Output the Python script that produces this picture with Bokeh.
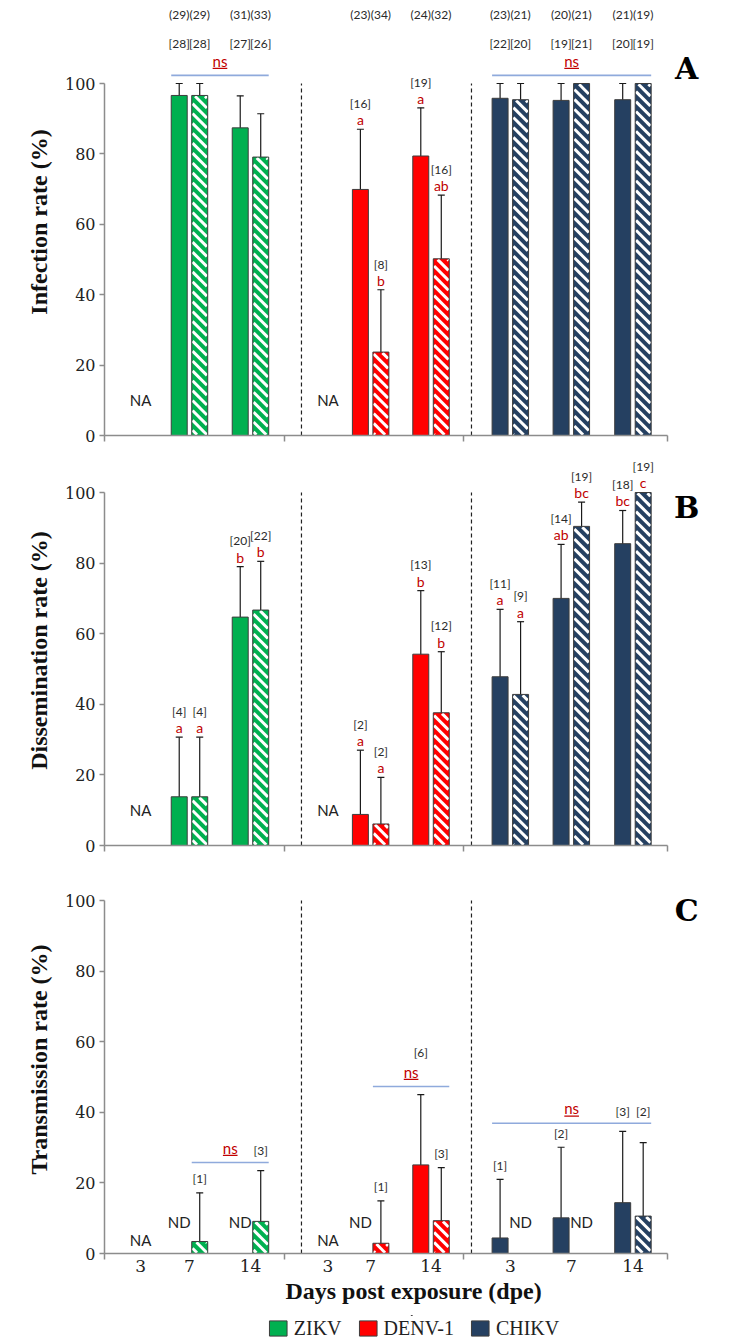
import math
from bokeh.plotting import figure
from bokeh.layouts import column
from bokeh.models import (ColumnDataSource, Whisker, TeeHead, FixedTicker, Range1d,
                          Legend, LegendItem)
from bokeh.core.properties import value
from bokeh.embed import file_html
from bokeh.resources import INLINE

# ---------------- data ----------------
viruses = ["ZIKV", "DENV-1", "CHIKV"]
virus_colors = ["#00B050", "#FF0000", "#254061"]
day_labels = ["3", "7", "14"]
# every list below: ZIKV 3,7,14 | DENV-1 3,7,14 | CHIKV 3,7,14
# "solid" = first mosquito population, "hatch" = second population

# A  infection rate (%)
inf_solid = [None, 96.6, 87.4, None, 69.9, 79.4, 95.8, 95.2, 95.4]
inf_solid_lo = [None, 82.6, 70.4, None, 47.3, 58.0, 78.3, 75.3, 76.4]
inf_solid_hi = [None, 100, 96.5, None, 87.0, 93.1, 100, 100, 100]
inf_hatch = [None, 96.6, 79.1, None, 23.7, 50.2, 95.4, 100, 100]
inf_hatch_lo = [None, 82.6, 63.9, None, 10.9, 32.0, 76.2, 84.0, 82.6]
inf_hatch_hi = [None, 100, 91.4, None, 41.4, 68.3, 100, 100, 100]
inf_tested_solid = [None, 29, 31, None, 23, 24, 23, 20, 21]
inf_tested_hatch = [None, 29, 33, None, 34, 32, 21, 21, 19]
inf_n_solid = [None, 28, 27, None, 16, 19, 22, 19, 20]
inf_n_hatch = [None, 28, 26, None, 8, 16, 20, 21, 19]
inf_let_solid = [None, None, None, None, "a", "a", None, None, None]
inf_let_hatch = [None, None, None, None, "b", "ab", None, None, None]
inf_status_solid = ["NA", "", "", "NA", "", "", "", "", ""]
inf_status_hatch = ["NA", "", "", "NA", "", "", "", "", ""]

# B  dissemination rate (%)
dis_solid = [None, 13.8, 64.7, None, 8.8, 54.2, 47.8, 70.0, 85.5]
dis_solid_lo = [None, 5.5, 47.0, None, 2.4, 35.4, 29.1, 48.0, 65.2]
dis_solid_hi = [None, 30.7, 79.0, None, 27.0, 72.2, 66.9, 85.3, 94.9]
dis_hatch = [None, 13.8, 66.7, None, 6.1, 37.6, 42.8, 90.4, 100]
dis_hatch_lo = [None, 5.5, 49.7, None, 1.8, 23.1, 24.5, 70.9, 83.2]
dis_hatch_hi = [None, 30.7, 80.5, None, 19.3, 54.9, 63.4, 97.3, 100]
dis_n_solid = [None, 4, 20, None, 2, 13, 11, 14, 18]
dis_n_hatch = [None, 4, 22, None, 2, 12, 9, 19, 19]
dis_let_solid = [None, "a", "b", None, "a", "b", "a", "ab", "bc"]
dis_let_hatch = [None, "a", "b", None, "a", "b", "a", "bc", "c"]
dis_status_solid = ["NA", "", "", "NA", "", "", "", "", ""]
dis_status_hatch = ["NA", "", "", "NA", "", "", "", "", ""]

# C  transmission rate (%)
tra_solid = [None, None, None, None, None, 25.1, 4.4, 10.1, 14.4]
tra_solid_lo = [None, None, None, None, None, 12.0, 0.7, 2.7, 4.9]
tra_solid_hi = [None, None, None, None, None, 45.0, 21.0, 30.1, 34.6]
tra_hatch = [None, 3.4, 9.1, None, 2.9, 9.3, None, None, 10.6]
tra_hatch_lo = [None, 0.6, 3.1, None, 0.1, 3.2, None, None, 3.1]
tra_hatch_hi = [None, 17.2, 23.5, None, 14.9, 24.3, None, None, 31.4]
tra_n_solid = [None, None, None, None, None, 6, 1, 2, 3]
tra_n_hatch = [None, 1, 3, None, 1, 3, None, None, 2]
tra_status_solid = ["NA", "ND", "ND", "NA", "ND", "", "", "", ""]
tra_status_hatch = ["NA", "", "", "NA", "", "", "ND", "ND", ""]

# "ns" comparisons: (first slot, 0 solid / 1 hatch, last slot, 0/1)
inf_ns = [(1, 0, 2, 1), (6, 0, 8, 1)]
dis_ns = []
tra_ns = [(1, 1, 2, 1), (4, 1, 5, 1), (6, 0, 8, 1)]

# ---------------- layout ----------------
SLOT_X = [0.2, 1.0, 2.0, 3.27, 3.97, 4.96, 6.26, 7.26, 8.27]
BAR_OFF = 0.168
BAR_W = 0.262
FRAME_W = 618
PX_X = 61.0                       # screen px per x unit
X_START = -0.393
X_END = X_START + FRAME_W / PX_X
AXIS_END = 8.84
GROUP_TICKS = [-0.393, 2.557, 5.492, 8.84]
SEPARATORS = [2.836, 5.623]
STRIPE_PERIOD = 7.0               # px, perpendicular distance between stripes
STRIPE_W = 3.0

SANS = value("Lato")
SERIF_NAME = "Liberation Serif"
NUM_NAME = "DejaVu Serif"
GRAY_AX = "#8c8c8c"
RED_T = "#C00000"
TXT = "#2a2a2a"
EDGE = "#3d3d3d"


def stripe_segments(bx, top, px_y):
    """white '\\' stripes clipped to a bar, computed in screen px then mapped back"""
    inset = 0.8
    X0 = (bx - BAR_W / 2) * PX_X + inset
    X1 = (bx + BAR_W / 2) * PX_X - inset
    T = top * px_y - inset
    step = STRIPE_PERIOD * math.sqrt(2)
    c = math.floor((X0 + inset) / step) * step
    out = []
    while c <= X1 + T + step:
        xa = max(X0, c - T)
        xb = min(X1, c - inset)
        if xa < xb:
            out.append((xa / PX_X, (c - xa) / px_y, xb / PX_X, (c - xb) / px_y))
        c += step
    return out


def make_panel(P):
    px_y = P["px100"] / 100.0
    y_end = P["frame_h"] / px_y
    p = figure(frame_width=FRAME_W, frame_height=P["frame_h"],
               x_range=Range1d(X_START, X_END), y_range=Range1d(0, y_end),
               output_backend="svg", toolbar_location=None,
               min_border_left=104, min_border_right=0, min_border_top=P["border_top"],
               min_border_bottom=P["border_bottom"], outline_line_color=None,
               background_fill_color="white", border_fill_color="white")
    p.xgrid.visible = False
    p.ygrid.visible = False

    # y axis
    ya = p.yaxis[0]
    ya.ticker = FixedTicker(ticks=[0, 20, 40, 60, 80, 100])
    ya.bounds = (0, 100)
    ya.axis_line_color = GRAY_AX
    ya.axis_line_width = 1.5
    ya.major_tick_line_color = GRAY_AX
    ya.major_tick_line_width = 1.5
    ya.major_tick_in = 0
    ya.major_tick_out = 5
    ya.minor_tick_line_color = None
    ya.major_label_text_font = NUM_NAME
    ya.major_label_text_font_size = "16px"
    ya.major_label_text_color = "#222222"
    ya.major_label_standoff = 4
    ya.axis_label = P["ylabel"]
    ya.axis_label_text_font = SERIF_NAME
    ya.axis_label_text_font_style = "bold"
    ya.axis_label_text_font_size = "24px"
    ya.axis_label_text_color = "#111111"
    ya.axis_label_standoff = 10

    # x axis
    xa = p.xaxis[0]
    show_x = P["show_x"]
    xa.ticker = FixedTicker(ticks=SLOT_X if show_x else [], minor_ticks=GROUP_TICKS)
    xa.bounds = (X_START, AXIS_END)
    xa.axis_line_color = GRAY_AX
    xa.axis_line_width = 1.5
    xa.major_tick_in = 0
    xa.major_tick_out = 0
    xa.minor_tick_in = 0
    xa.minor_tick_out = 6
    xa.minor_tick_line_color = GRAY_AX
    xa.minor_tick_line_width = 1.5
    if show_x:
        xa.major_label_overrides = {SLOT_X[i]: day_labels[i % 3] for i in range(9)}
        xa.major_label_text_font = NUM_NAME
        xa.major_label_text_font_size = "17px"
        xa.major_label_text_color = "#222222"
        xa.major_label_standoff = 0
        xa.axis_label = "Days post exposure (dpe)"
        xa.axis_label_text_font = SERIF_NAME
        xa.axis_label_text_font_style = "bold"
        xa.axis_label_text_font_size = "24px"
        xa.axis_label_text_color = "#111111"
        xa.axis_label_standoff = 3
    else:
        xa.major_label_text_font_size = "0px"

    # dashed separators
    p.segment(x0=SEPARATORS, x1=SEPARATORS, y0=[0] * 2, y1=[100] * 2,
              line_color="#222222", line_width=1.2, line_dash="4 3")

    # bars
    wx, wlo, whi = [], [], []
    bars = []  # (x, hi, slot, kind)
    stripes = []
    outline_x, outline_top = [], []
    for kind, (vals, los, his) in enumerate([(P["solid"], P["solid_lo"], P["solid_hi"]),
                                            (P["hatch"], P["hatch_lo"], P["hatch_hi"])]):
        for g in range(3):
            xs, tops = [], []
            for d in range(3):
                i = g * 3 + d
                if vals[i] is None:
                    continue
                x = SLOT_X[i] + (BAR_OFF if kind else -BAR_OFF)
                xs.append(x)
                tops.append(vals[i])
                wx.append(x)
                wlo.append(los[i])
                whi.append(his[i])
                bars.append((x, his[i], i, kind))
                if kind:
                    stripes += stripe_segments(x, vals[i], px_y)
                    outline_x.append(x)
                    outline_top.append(vals[i])
            src = ColumnDataSource(dict(x=xs, top=tops))
            if kind == 0:
                p.vbar(x="x", top="top", bottom=0, width=BAR_W, source=src,
                       fill_color=virus_colors[g], line_color=EDGE, line_width=1)
            else:
                p.vbar(x="x", top="top", bottom=0, width=BAR_W, source=src,
                       fill_color=virus_colors[g], line_color=None)
    if stripes:
        p.segment(x0=[s[0] for s in stripes], y0=[s[1] for s in stripes],
                  x1=[s[2] for s in stripes], y1=[s[3] for s in stripes],
                  line_color="white", line_width=STRIPE_W, line_cap="butt")
        p.vbar(x=outline_x, top=outline_top, bottom=0, width=BAR_W,
               fill_color=None, line_color=EDGE, line_width=1)

    wsrc = ColumnDataSource(dict(x=wx, lo=wlo, hi=whi))
    p.add_layout(Whisker(source=wsrc, base="x", lower="lo", upper="hi",
                         line_color="#1a1a1a", line_width=1.2,
                         lower_head=TeeHead(size=7, line_color="#1a1a1a", line_width=1.2),
                         upper_head=TeeHead(size=7, line_color="#1a1a1a", line_width=1.2)))

    # NA / ND labels
    na_x, na_y, na_t = [], [], []
    for i in range(9):
        if P["status_solid"][i] == "NA":
            na_x.append(SLOT_X[i]); na_y.append(P["na_y"]); na_t.append("NA")
        else:
            for kind, st in enumerate([P["status_solid"][i], P["status_hatch"][i]]):
                if st == "ND":
                    na_x.append(SLOT_X[i] + (BAR_OFF if kind else -BAR_OFF))
                    na_y.append(9.0); na_t.append("ND")
    p.text(x=na_x, y=na_y, text=na_t, text_font=SANS, text_font_size="15px",
           text_color="#222222", text_align="center", text_baseline="middle")

    # ns comparisons
    spans = []
    for (s0, k0, s1, k1) in P["ns"]:
        x0 = SLOT_X[s0] + (BAR_OFF if k0 else -BAR_OFF) - BAR_W / 2
        x1 = SLOT_X[s1] + (BAR_OFF if k1 else -BAR_OFF) + BAR_W / 2
        top = max(h for (bx, h, i, k) in bars if x0 <= bx <= x1)
        ly = top + 2.3
        nx = (x0 + x1) / 2
        spans.append((x0, x1, ly, nx, ly + 4.2))
    if spans:
        p.segment(x0=[s[0] for s in spans], x1=[s[1] for s in spans],
                  y0=[s[2] for s in spans], y1=[s[2] for s in spans],
                  line_color="#8FAADC", line_width=1.6)
        p.text(x=[s[3] for s in spans], y=[s[4] for s in spans], text=["ns"] * len(spans),
               text_font=SANS, text_font_size="15px", text_color=RED_T,
               text_align="center", text_baseline="middle")
        p.segment(x0=[s[3] - 0.12 for s in spans], x1=[s[3] + 0.12 for s in spans],
                  y0=[s[4] - 2.2 for s in spans], y1=[s[4] - 2.2 for s in spans],
                  line_color=RED_T, line_width=1.2)

    # count / letter labels
    cx, cy, ct, lx, ly_, lt = [], [], [], [], [], []
    hx, hy, htx = [], [], []
    for (bx, hi, i, kind) in bars:
        n = (P["n_hatch"] if kind else P["n_solid"])[i]
        let = (P["let_hatch"] if kind else P["let_solid"])[i] if P["let_solid"] else None
        g = i // 3
        if g in P["header_groups"]:
            hx.append(bx); hy.append(111.4); htx.append("[%d]" % n)
            continue
        if let:
            lx.append(bx); ly_.append(hi + 2.7); lt.append(let)
            cx.append(bx); cy.append(hi + 7.3); ct.append("[%d]" % n)
        else:
            yy = hi + 4.0
            for (x0, x1, sy, nx, ny) in spans:
                if x0 <= bx <= x1:
                    if abs(bx - nx) < 0.3 and yy > sy - 2.5:
                        yy = ny + 5.5
                    elif sy - 2.5 < yy < sy + 3.3:
                        yy = sy + 3.3
            cx.append(bx); cy.append(yy); ct.append("[%d]" % n)
    if P.get("tested_solid"):
        for (bx, hi, i, kind) in bars:
            t = (P["tested_hatch"] if kind else P["tested_solid"])[i]
            hx.append(bx); hy.append(119.6); htx.append("(%d)" % t)
    p.text(x=cx + hx, y=cy + hy, text=ct + htx, text_font=SANS, text_font_size="12px",
           text_color=TXT, text_align="center", text_baseline="middle")
    if lt:
        p.text(x=lx, y=ly_, text=lt, text_font=SANS, text_font_size="14px",
               text_color=RED_T, text_align="center", text_baseline="middle")

    # panel letter
    p.text(x=[9.15], y=[P["letter_y"]], text=[P["letter"]], text_font=value("DejaVu Serif"),
           text_font_style="bold", text_font_size="30px", text_color="black",
           text_align="center", text_baseline="middle")
    return p


def make_legend_strip():
    # legend-only strip; each swatch renderer holds one bar far above the visible range
    lp = figure(width=722, height=26, x_range=Range1d(0, 704), y_range=Range1d(0, 26),
                output_backend="svg", toolbar_location=None,
                x_axis_location=None, y_axis_location=None,
                min_border_left=18, min_border_right=0, min_border_top=0,
                min_border_bottom=0, outline_line_color=None,
                background_fill_color="white", border_fill_color="white")
    lp.xgrid.visible = False
    lp.ygrid.visible = False
    items = []
    for g in range(3):
        r = lp.vbar(x=[350], top=[5001], bottom=5000, width=1, fill_color=virus_colors[g],
                    line_color=EDGE, line_width=1)
        items.append(LegendItem(label=viruses[g], renderers=[r]))
    leg = Legend(items=items, orientation="horizontal", location="center",
                 glyph_width=22, glyph_height=19, label_text_font=SERIF_NAME,
                 label_text_font_size="20px", label_standoff=5, spacing=15,
                 padding=0, margin=0, border_line_color=None,
                 background_fill_alpha=0, label_text_color="#222222",
                 label_height=19)
    lp.add_layout(leg, "center")
    return lp


panelA = dict(solid=inf_solid, solid_lo=inf_solid_lo, solid_hi=inf_solid_hi,
              hatch=inf_hatch, hatch_lo=inf_hatch_lo, hatch_hi=inf_hatch_hi,
              n_solid=inf_n_solid, n_hatch=inf_n_hatch, let_solid=inf_let_solid,
              let_hatch=inf_let_hatch, status_solid=inf_status_solid,
              status_hatch=inf_status_hatch, ns=inf_ns, header_groups=[0, 2],
              tested_solid=inf_tested_solid, tested_hatch=inf_tested_hatch,
              ylabel="Infection rate (%)", letter="A", letter_y=104.3, na_y=10,
              frame_h=427, px100=352, border_top=8, border_bottom=20, show_x=False)
panelB = dict(solid=dis_solid, solid_lo=dis_solid_lo, solid_hi=dis_solid_hi,
              hatch=dis_hatch, hatch_lo=dis_hatch_lo, hatch_hi=dis_hatch_hi,
              n_solid=dis_n_solid, n_hatch=dis_n_hatch, let_solid=dis_let_solid,
              let_hatch=dis_let_hatch, status_solid=dis_status_solid,
              status_hatch=dis_status_hatch, ns=dis_ns, header_groups=[],
              ylabel="Dissemination rate (%)", letter="B", letter_y=95.8, na_y=10,
              frame_h=390, px100=353, border_top=0, border_bottom=20, show_x=False)
panelC = dict(solid=tra_solid, solid_lo=tra_solid_lo, solid_hi=tra_solid_hi,
              hatch=tra_hatch, hatch_lo=tra_hatch_lo, hatch_hi=tra_hatch_hi,
              n_solid=tra_n_solid, n_hatch=tra_n_hatch, let_solid=None,
              let_hatch=None, status_solid=tra_status_solid,
              status_hatch=tra_status_hatch, ns=tra_ns, header_groups=[],
              ylabel="Transmission rate (%)", letter="C", letter_y=97.2, na_y=3.7,
              frame_h=388, px100=353, border_top=0, border_bottom=62, show_x=True)

pa = make_panel(panelA)
pb = make_panel(panelB)
pc = make_panel(panelC)
pl = make_legend_strip()

layout = column(pa, pb, pc, pl, spacing=0)
open("out.html", "w").write(file_html(layout, INLINE))
